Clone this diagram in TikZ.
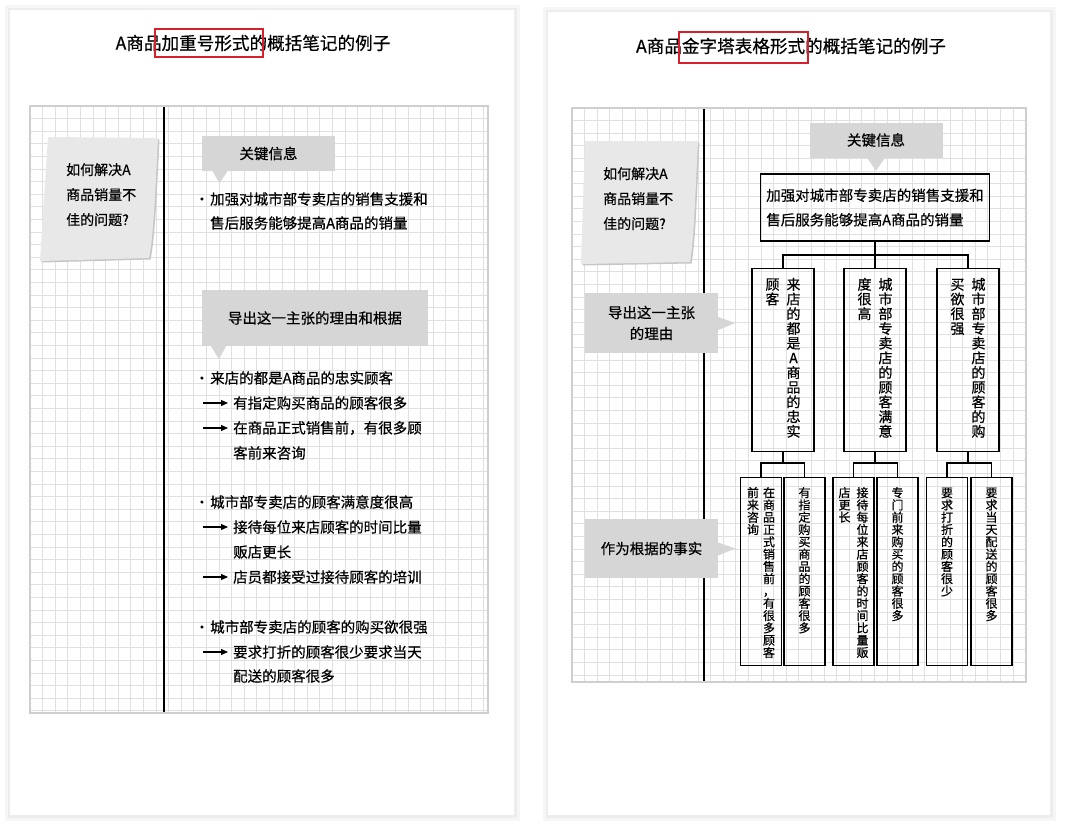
\documentclass[tikz,border=0pt]{standalone}
\usepackage{fontspec}
\setmainfont{Noto Sans CJK SC}[FakeBold=0.5]
\usepackage{xcolor}
\usetikzlibrary{positioning}
\usetikzlibrary{arrows.meta}
\definecolor{callgray}{HTML}{D6D6D6}
\definecolor{notegray}{HTML}{E8E8E8}
\definecolor{gridgray}{HTML}{E0E0E0}
\definecolor{framegray}{HTML}{CFCFCF}
\definecolor{markred}{HTML}{D7202B}
% one column of upright characters, read from top to bottom
\makeatletter
\newcommand{\vcol}[1]{\vtop{\lineskiplimit=-\maxdimen\vcol@step#1\relax}}
\def\vcol@step#1{\ifx\relax#1\else\hbox to 1em{\hss#1\hss}\expandafter\vcol@step\fi}
\makeatother
\newcommand{\dotitem}{\llap{·\hskip1pt}}

\tikzset{
  titletext/.style={inner sep=0pt, font=\fontsize{17.6}{20}\selectfont},
  bodytext/.style={anchor=west, inner sep=0pt, font=\fontsize{14.5}{20}\selectfont},
  notetext/.style={anchor=north west, inner sep=0pt, align=left, font=\fontsize{14}{25}\selectfont},
  callout/.style={fill=callgray, inner sep=0pt, align=center, font=\fontsize{14.5}{21}\selectfont},
  gridline/.style={draw=gridgray, line width=0.9pt},
  pointer/.style={line width=1.1pt, -{Triangle[length=7pt,width=6pt]}, shorten >=5pt},
  tline/.style={line width=1.3pt},
  keybox/.style={draw, line width=1.3pt, inner sep=0pt, align=left, minimum width=229, minimum height=67, font=\fontsize{14.5}{24.5}\selectfont},
  topbox/.style={draw, line width=1.3pt, anchor=north, minimum width=62, inner xsep=0pt, inner ysep=8pt, text height=13pt, text depth=154pt, font=\fontsize{14}{14.7}\selectfont},
  factbox/.style={draw, line width=1.3pt, anchor=north, minimum width=41, inner xsep=0pt, inner ysep=8pt, text height=11.5pt, text depth=160.5pt, font=\fontsize{12}{12.3}\selectfont},
}

\begin{document}
\begin{tikzpicture}[x=1pt,y=-1pt]
\useasboundingbox (0,0) rectangle (1080,828);
\fill[white] (0,0) rectangle (1080,828);

% pages
\fill[gray!7] (5,5) rectangle (520,821);
\fill[gray!14] (8,8) rectangle (517,818);
\fill[white] (10,10) rectangle (514,815);
\fill[gray!7] (543,7) rectangle (1056,821);
\fill[gray!14] (546,10) rectangle (1053,818);
\fill[white] (548,12) rectangle (1050,815);

% titles
\node[titletext] (ltitle) at (253,43) {A商品加重号形式的概括笔记的例子};
\node[titletext] (rtitle) at (791,46) {A商品金字塔表格形式的概括笔记的例子};
\draw[markred, line width=2pt] (155,29) rectangle (263,57);
\draw[markred, line width=2pt] (679,32) rectangle (808,63);

% squared paper, left
\foreach \k in {1,...,36} \draw[gridline] ({30+12.6*\k},106) -- ({30+12.6*\k},713);
\foreach \k in {1,...,48} \draw[gridline] (30,{106+12.6*\k}) -- (488,{106+12.6*\k});
\draw[framegray, line width=2pt] (30,106) rectangle (488,713);
\draw[line width=1.2pt] (164,107) -- (164,712);

% squared paper, right
\foreach \k in {1,...,35} \draw[gridline] ({572+12.6*\k},108) -- ({572+12.6*\k},682);
\foreach \k in {1,...,45} \draw[gridline] (572,{108+12.6*\k}) -- (1026,{108+12.6*\k});
\draw[framegray, line width=2pt] (572,108) rectangle (1026,682);
\draw[line width=1.2pt] (704,109) -- (704,681);

% left: question note
\fill[gray!45, shift={(1.5,1.5)}] (48,137) -- (158,138) .. controls (155,200) and (153,240) .. (149,258) -- (40,261) -- cycle;
\fill[notegray] (48,137) -- (158,138) .. controls (155,200) and (153,240) .. (149,258) -- (40,261) -- cycle;
\node[notetext] (lq) at (66,163) {如何解决A\\商品销量不\\佳的问题?};

% left: key message
\node[callout, minimum width=133, minimum height=35] (lkey) at (268.5,153.5) {关键信息};
\fill[callgray] ([xshift=-56]lkey.south) -- ([xshift=-41]lkey.south) -- ([xshift=-49,yshift=-12]lkey.south) -- cycle;
\node[bodytext] (m1) at (210,199) {\dotitem 加强对城市部专卖店的销售支援和};
\node[bodytext] (m2) at (210,223) {售后服务能够提高A商品的销量};

% left: reasons and facts
\node[callout, minimum width=226, minimum height=56] (lwhy) at (315,318) {导出这一主张的理由和根据};
\fill[callgray] ([xshift=-104]lwhy.south) -- ([xshift=-89]lwhy.south) -- ([xshift=-96,yshift=-13]lwhy.south) -- cycle;

\node[bodytext] (p1) at (210,378) {\dotitem 来店的都是A商品的忠实顾客};
\coordinate (a11) at (203,403);
\node[bodytext] (f11) at (233,403) {有指定购买商品的顾客很多};
\coordinate (a12) at (203,428);
\node[bodytext] (f12) at (233,428) {在商品正式销售前，有很多顾};
\node[bodytext] (f12b) at (233,453) {客前来咨询};
\draw[pointer] (a11) -- (f11.west);
\draw[pointer] (a12) -- (f12.west);

\node[bodytext] (p2) at (210,502) {\dotitem 城市部专卖店的顾客满意度很高};
\coordinate (a21) at (203,527);
\node[bodytext] (f21) at (233,527) {接待每位来店顾客的时间比量};
\node[bodytext] (f21b) at (233,552) {贩店更长};
\coordinate (a22) at (203,577);
\node[bodytext] (f22) at (233,577) {店员都接受过接待顾客的培训};
\draw[pointer] (a21) -- (f21.west);
\draw[pointer] (a22) -- (f22.west);

\node[bodytext] (p3) at (210,627) {\dotitem 城市部专卖店的顾客的购买欲很强};
\coordinate (a31) at (203,652);
\node[bodytext] (f31) at (233,652) {要求打折的顾客很少要求当天};
\node[bodytext] (f31b) at (233,676) {配送的顾客很多};
\draw[pointer] (a31) -- (f31.west);

% right: question note
\fill[gray!45, shift={(1.5,1.5)}] (585,141) -- (698,141) .. controls (695,200) and (694,240) .. (690,262) -- (581,264) -- cycle;
\fill[notegray] (585,141) -- (698,141) .. controls (695,200) and (694,240) .. (690,262) -- (581,264) -- cycle;
\node[notetext] (rq) at (603,167) {如何解决A\\商品销量不\\佳的问题?};

% right: side labels
\node[callout, minimum width=133, minimum height=60] (rwhy) at (651.5,323) {导出这一主张\\的理由};
\fill[callgray] ([yshift=6]rwhy.east) -- ([yshift=-7]rwhy.east) -- ([xshift=17]rwhy.east) -- cycle;
\node[callout, minimum width=133, minimum height=59] (rfact) at (651.5,548.5) {作为根据的事实};
\fill[callgray] ([yshift=6]rfact.east) -- ([yshift=-7]rfact.east) -- ([xshift=17]rfact.east) -- cycle;

% right: pyramid
\node[callout, minimum width=133, minimum height=35] (rkey) at (876,140) {关键信息};
\fill[callgray] ([xshift=-9]rkey.south) -- ([xshift=9]rkey.south) -- ([yshift=-13]rkey.south) -- cycle;
\node[keybox] (key) at (875,207.5) {加强对城市部专卖店的销售支援和\\售后服务能够提高A商品的销量};

\node[topbox] (b1) at (783,268) {\vcol{顾客}\hskip7pt\vcol{来店的都是A商品的忠实}};
\node[topbox] (b2) at (875,268) {\vcol{度很高}\hskip7pt\vcol{城市部专卖店的顾客满意}};
\node[topbox] (b3) at (968,268) {\vcol{买欲很强}\hskip7pt\vcol{城市部专卖店的顾客的购}};
\coordinate (j0) at (875,255);
\draw[tline] (key.south) -- (b2.north);
\draw[tline] (b1.north) |- (j0) -| (b3.north);

\node[factbox] (c1) at (761,477) {\vcol{前来咨询}\hskip4pt\vcol{在商品正式销售前，有很多顾客}};
\node[factbox] (c2) at (804.5,477) {\vcol{有指定购买商品的顾客很多}};
\node[factbox] (c3) at (853.5,477) {\vcol{店更长}\hskip6pt\vcol{接待每位来店顾客的时间比量贩}};
\node[factbox] (c4) at (897.5,477) {\vcol{专门前来购买的顾客很多}};
\node[factbox] (c5) at (947,477) {\vcol{要求打折的顾客很少}};
\node[factbox] (c6) at (991.5,477) {\vcol{要求当天配送的顾客很多}};
\coordinate (j1) at (783,463);
\coordinate (j2) at (875,463);
\coordinate (j3) at (968,463);
\draw[tline] (b1.south) -- (j1);
\draw[tline] (c1.north) |- (j1) -| (c2.north);
\draw[tline] (b2.south) -- (j2);
\draw[tline] (c3.north) |- (j2) -| (c4.north);
\draw[tline] (b3.south) -- (j3);
\draw[tline] (c5.north) |- (j3) -| (c6.north);
\end{tikzpicture}
\end{document}
